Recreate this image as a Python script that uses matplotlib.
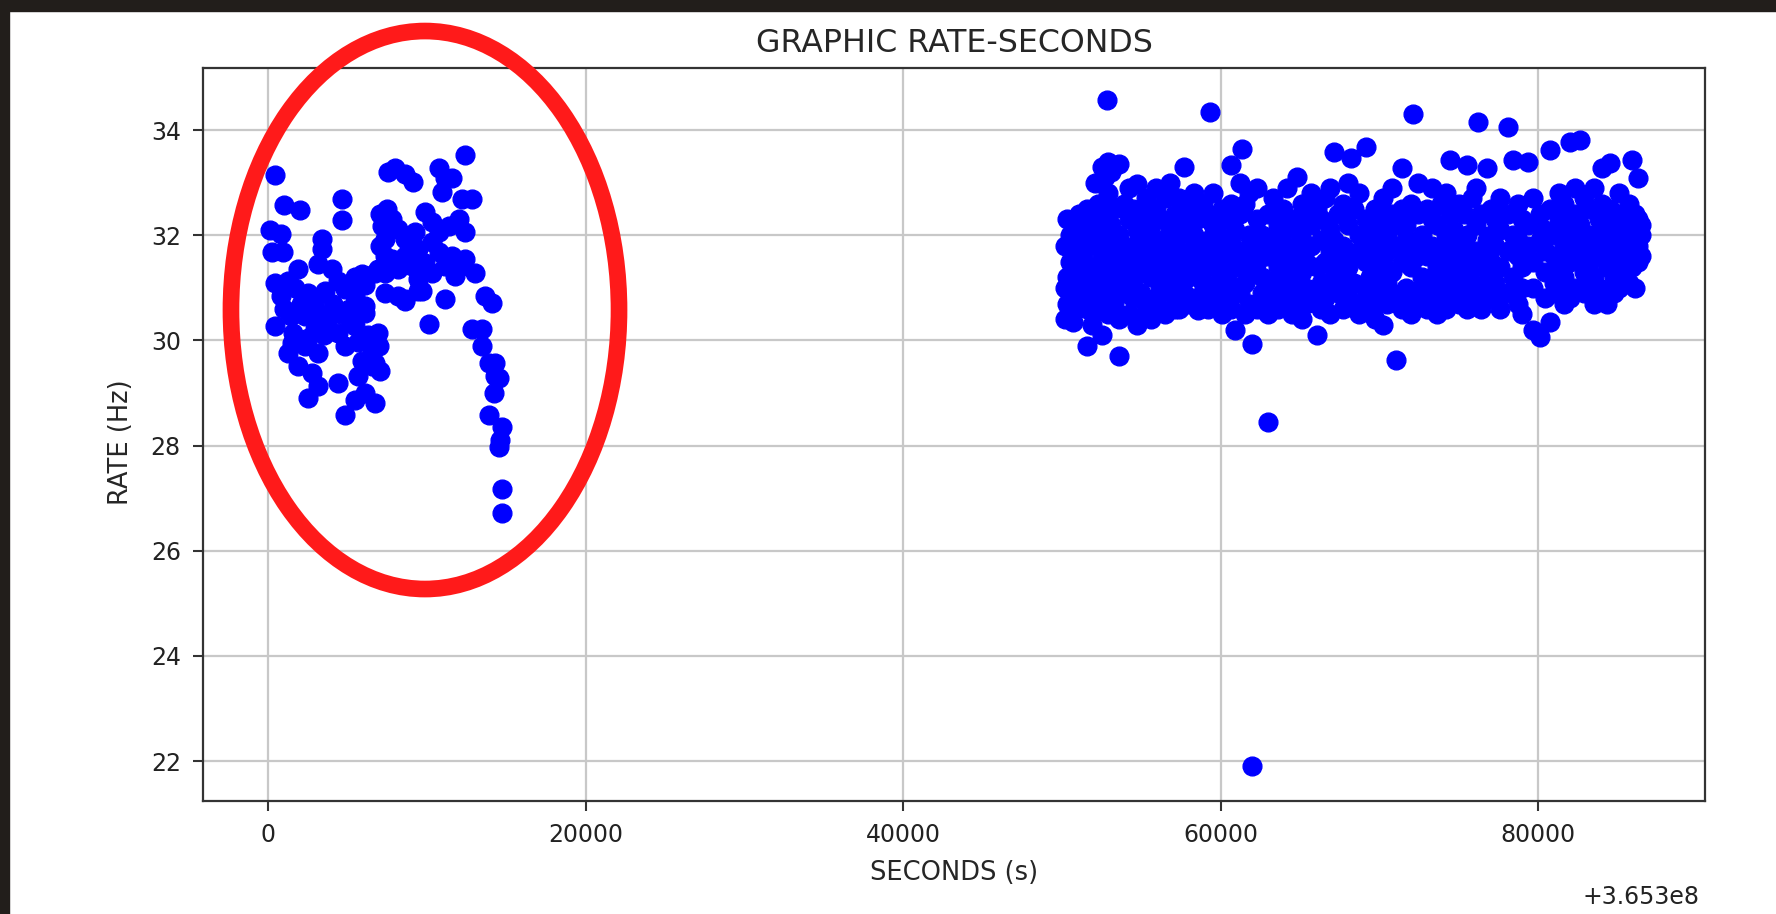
import matplotlib.pyplot as plt
from matplotlib.patches import Ellipse, Rectangle

# time origin of the run (seconds), shown as axis offset
T0 = 365300000

# first block of measurements: (seconds after T0, rate in Hz)
left_obs = [
    (463, 33.15), (1010, 32.58), (2000, 32.48), (4673, 32.69), (4673, 32.28),
    (105, 32.09), (842, 32.03), (250, 31.68), (947, 31.68), (3368, 31.93),
    (3368, 31.74), (3158, 31.45),
    (1895, 31.36), (421, 31.10), (1263, 31.13), (4000, 31.36), (4421, 31.13),
    (5894, 31.26), (6947, 31.36), (7368, 31.29), (5473, 31.20), (6105, 31.05),
    (842, 30.85), (2526, 30.91), (2947, 30.78), (3579, 30.94), (4842, 30.97),
    (5473, 30.85), (6105, 30.66), (8210, 30.85), (8631, 30.75), (9473, 30.94),
    (1700, 31.00), (2100, 30.70), (2600, 30.60), (3300, 30.50), (4100, 30.70),
    (4600, 30.50), (5100, 30.60), (5200, 30.35), (3500, 30.10), (2500, 30.05),
    (1600, 30.15), (1000, 30.60), (1500, 29.95), (6300, 30.10), (7000, 29.90),
    (421, 30.27), (1474, 30.46), (2316, 30.46), (2947, 30.21), (3789, 30.40),
    (4421, 30.15), (5473, 30.27), (6105, 30.53), (6947, 30.15), (11157, 30.78),
    (1263, 29.76), (2316, 29.89), (3158, 29.76), (4842, 29.89), (5684, 29.96),
    (6526, 29.83), (6737, 29.57), (5900, 29.60),
    (1895, 29.51), (2737, 29.38), (3158, 29.13), (4421, 29.19), (5684, 29.32),
    (6526, 29.51), (7052, 29.41),
    (2526, 28.90), (4842, 28.59), (5473, 28.87), (6105, 29.00), (6737, 28.81),
    (8000, 33.27), (7580, 33.20), (8631, 33.17), (9157, 33.01), (10736, 33.27),
    (11157, 33.08), (10946, 32.82), (11578, 33.08), (12420, 33.52),
    (12210, 32.69), (12841, 32.69), (7052, 32.41), (7473, 32.50),
    (7157, 32.18), (7789, 32.31), (8210, 32.12), (7368, 31.93), (7052, 31.80),
    (8631, 31.93), (9262, 32.06), (9894, 32.44), (10315, 32.25), (10736, 32.06),
    (11368, 32.18), (11999, 32.31), (12420, 32.06), (10315, 31.87), (9473, 31.74),
    (8631, 31.61), (7789, 31.55), (8210, 31.36), (9052, 31.42), (9894, 31.48),
    (10736, 31.68), (11578, 31.61), (11157, 31.42), (12210, 31.42), (7368, 31.61),
    (6737, 31.29), (9473, 31.17), (10315, 31.29), (11789, 31.23), (12420, 31.55),
    (13052, 31.29), (7368, 30.91), (8631, 30.78), (9684, 30.94), (10104, 30.31),
    (13683, 30.85), (14104, 30.72), (12841, 30.21), (13473, 30.21), (13473, 29.89),
    (13894, 29.57), (14315, 29.57), (14315, 29.32), (14525, 29.29), (14210, 29.00),
    (13894, 28.59), (14736, 28.36), (14525, 27.98), (14630, 28.10), (14736, 27.18),
    (14736, 26.71),
]

# second block of measurements: (seconds after T0, rate in Hz)
right_obs = [
    (50200, 31.0), (50200, 30.4), (50200, 31.8), (50300, 32.3), (50300, 30.7),
    (50300, 31.2), (50500, 31.5), (50500, 30.5), (50500, 32.0), (50500, 30.9),
    (50700, 31.3), (50700, 30.35), (50700, 31.7), (50900, 32.1), (50900, 31.0),
    (50900, 30.6), (50900, 31.5), (51100, 32.4), (51100, 31.2), (51100, 30.8),
    (51100, 31.8), (51300, 31.6), (51300, 32.2), (51300, 30.9), (51300, 31.0),
    (51600, 31.9), (51600, 32.5), (51600, 31.3), (51600, 30.6), (51600, 29.9),
    (51900, 32.0), (51900, 31.1), (51900, 30.3), (51900, 32.4), (52100, 31.4),
    (52100, 32.1), (52100, 30.8), (52100, 33.0), (52300, 31.8), (52300, 32.6),
    (52300, 31.2), (52300, 30.6), (52500, 31.6), (52500, 32.0), (52500, 30.1),
    (52500, 33.3), (52500, 30.6), (52700, 32.3), (52700, 31.3), (52700, 30.9),
    (52700, 33.1), (52860, 34.57), (52900, 31.9), (52900, 32.8), (52900, 31.5),
    (52900, 30.5), (52900, 33.4), (53100, 32.2), (53100, 31.0), (53100, 31.7),
    (53100, 33.2), (53300, 31.4), (53300, 32.5), (53300, 30.7), (53300, 31.9),
    (53600, 32.0), (53600, 31.2), (53600, 33.35), (53600, 29.7), (53600, 30.4),
    (53900, 31.7), (53900, 32.6), (53900, 30.9), (53900, 31.3), (54200, 32.3),
    (54200, 31.5), (54200, 30.5), (54200, 32.9), (54500, 31.8), (54500, 31.1),
    (54500, 32.5), (54500, 30.8), (54750, 32.98), (54750, 31.6), (54750, 30.3),
    (54750, 32.1), (55000, 31.3), (55000, 32.4), (55000, 30.9), (55000, 31.8),
    (55300, 32.7), (55300, 31.5), (55300, 30.6), (55300, 32.0), (55600, 31.2),
    (55600, 32.2), (55600, 30.4), (55600, 31.7), (55900, 32.5), (55900, 31.4),
    (55900, 30.8), (55900, 32.9), (56200, 31.9), (56200, 31.0), (56200, 32.3),
    (56200, 30.6), (56500, 32.7), (56500, 31.6), (56500, 30.5), (56500, 31.2),
    (56800, 31.4), (56800, 32.1), (56800, 30.9), (56800, 33.0), (57100, 32.4),
    (57100, 31.8), (57100, 30.6), (57100, 31.1), (57400, 31.5), (57400, 32.7),
    (57400, 30.6), (57400, 32.0), (57700, 32.2), (57700, 31.3), (57700, 33.3),
    (57700, 30.9), (58000, 31.7), (58000, 32.5), (58000, 30.7), (58000, 31.2),
    (58300, 32.0), (58300, 31.5), (58300, 30.8), (58300, 32.8), (58600, 31.3),
    (58600, 32.3), (58600, 30.57), (58600, 31.8), (58900, 32.6), (58900, 31.7),
    (58900, 30.9), (58900, 31.1), (59200, 31.9), (59200, 32.4), (59200, 30.6),
    (59200, 31.4), (59330, 34.35), (59500, 32.2), (59500, 31.6), (59500, 30.9),
    (59500, 32.8), (59800, 31.5), (59800, 32.0), (59800, 31.1), (59800, 30.7),
    (60100, 32.5), (60100, 31.8), (60100, 31.3), (60100, 30.5), (60400, 31.7),
    (60400, 32.3), (60400, 30.8), (60400, 31.2), (60630, 33.33), (60630, 31.9),
    (60630, 32.6), (60630, 30.6), (60900, 31.4), (60900, 32.1), (60900, 31.0),
    (60900, 30.2), (61200, 32.4), (61200, 31.7), (61200, 30.9), (61200, 33.0),
    (61365, 33.64), (61500, 31.6), (61500, 32.6), (61500, 31.1), (61500, 30.5),
    (61800, 32.0), (61800, 31.3), (61800, 30.7), (61800, 32.8), (62000, 21.9),
    (62000, 29.94), (62000, 31.8), (62300, 32.3), (62300, 31.5), (62300, 30.6),
    (62300, 32.9), (62600, 31.2), (62600, 32.0), (62600, 30.9), (62600, 31.7),
    (63000, 28.44), (63000, 32.4), (63000, 31.6), (63000, 30.5), (63300, 31.9),
    (63300, 32.7), (63300, 31.1), (63300, 30.8), (63600, 32.2), (63600, 31.4),
    (63600, 30.6), (63600, 31.8), (63900, 31.6), (63900, 32.5), (63900, 30.9),
    (63900, 32.1), (64200, 32.9), (64200, 31.2), (64200, 30.7), (64200, 31.8),
    (64500, 31.5), (64500, 32.3), (64500, 31.0), (64500, 30.5), (64800, 32.1),
    (64800, 31.7), (64800, 30.8), (64800, 33.1), (65100, 31.3), (65100, 32.6),
    (65100, 31.9), (65100, 30.4), (65400, 32.4), (65400, 31.5), (65400, 30.7),
    (65400, 31.0), (65700, 31.8), (65700, 32.2), (65700, 30.9), (65700, 32.8),
    (66035, 30.1), (66035, 31.4), (66035, 32.5), (66300, 31.9), (66300, 32.3),
    (66300, 31.1), (66300, 30.6), (66600, 32.7), (66600, 31.5), (66600, 31.0),
    (66600, 30.8), (66900, 31.7), (66900, 32.1), (66900, 30.5), (66900, 32.9),
    (67140, 33.59), (67140, 31.3), (67140, 31.9), (67400, 32.4), (67400, 31.6),
    (67400, 30.9), (67400, 31.0), (67700, 31.8), (67700, 32.6), (67700, 30.6),
    (67700, 31.2), (68000, 32.2), (68000, 31.4), (68000, 30.8), (68000, 33.0),
    (68190, 33.46), (68400, 31.6), (68400, 32.5), (68400, 31.1), (68400, 30.7),
    (68700, 32.0), (68700, 31.7), (68700, 30.5), (68700, 32.8), (69135, 33.68),
    (69135, 31.5), (69135, 32.3), (69135, 30.9), (69400, 31.2), (69400, 32.1),
    (69400, 30.6), (69400, 31.8), (69700, 32.5), (69700, 31.6), (69700, 31.0),
    (69700, 30.4), (70000, 31.9), (70000, 32.3), (70000, 30.8), (70000, 31.3),
    (70235, 30.29), (70235, 32.7), (70235, 31.5), (70500, 31.7), (70500, 32.0),
    (70500, 30.7), (70500, 31.1), (70800, 32.4), (70800, 31.3), (70800, 30.9),
    (70800, 32.9), (71025, 29.63), (71025, 31.8), (71025, 32.2), (71390, 33.27),
    (71390, 31.5), (71390, 30.6), (71390, 32.5), (71700, 31.9), (71700, 32.2),
    (71700, 31.0), (71700, 30.8), (72000, 32.6), (72000, 31.4), (72000, 30.5),
    (72000, 31.7), (72125, 34.3), (72400, 31.6), (72400, 32.4), (72400, 30.9),
    (72400, 33.0), (72700, 32.0), (72700, 31.2), (72700, 30.7), (72700, 31.8),
    (73000, 32.5), (73000, 31.6), (73000, 31.0), (73000, 30.6), (73300, 31.8),
    (73300, 32.3), (73300, 30.8), (73300, 32.9), (73600, 32.2), (73600, 31.4),
    (73600, 30.5), (73600, 31.1), (73900, 31.5), (73900, 32.6), (73900, 31.0),
    (73900, 30.9), (74200, 32.0), (74200, 31.7), (74200, 30.6), (74200, 32.8),
    (74435, 33.43), (74435, 31.3), (74435, 32.4), (74700, 31.8), (74700, 32.1),
    (74700, 30.8), (74700, 31.0), (75000, 32.6), (75000, 31.5), (75000, 30.7),
    (75000, 31.2), (75300, 31.9), (75300, 32.4), (75300, 30.9), (75300, 31.6),
    (75485, 33.33), (75485, 32.0), (75485, 30.6), (75800, 31.4), (75800, 32.7),
    (75800, 31.1), (75800, 30.8), (76100, 32.2), (76100, 31.7), (76100, 30.7),
    (76100, 32.9), (76200, 34.16), (76400, 31.6), (76400, 32.4), (76400, 31.0),
    (76400, 30.6), (76745, 33.27), (76745, 31.9), (76745, 31.3), (77000, 32.5),
    (77000, 31.5), (77000, 30.8), (77000, 32.0), (77300, 31.8), (77300, 32.3),
    (77300, 31.1), (77300, 30.9), (77600, 32.1), (77600, 31.4), (77600, 30.6),
    (77600, 32.7), (78070, 34.05), (78070, 31.7), (78070, 32.4), (78070, 30.9),
    (78425, 33.43), (78425, 31.2), (78425, 32.0), (78700, 31.6), (78700, 32.6),
    (78700, 30.7), (78700, 31.9), (79000, 32.3), (79000, 31.4), (79000, 31.0),
    (79000, 30.5), (79370, 33.4), (79370, 31.8), (79370, 32.2), (79685, 30.19),
    (79685, 32.7), (79685, 31.5), (79685, 31.0), (80100, 30.06), (80100, 31.9),
    (80100, 32.4), (80400, 31.3), (80400, 32.1), (80400, 31.7), (80400, 30.8),
    (80735, 30.35), (80735, 33.62), (80735, 32.5), (81000, 31.6), (81000, 32.0),
    (81000, 31.1), (81000, 30.9), (81300, 32.8), (81300, 31.4), (81300, 32.3),
    (81300, 31.0), (81600, 31.8), (81600, 32.6), (81600, 31.2), (81600, 30.7),
    (82000, 33.78), (82000, 32.1), (82000, 31.5), (82000, 30.8), (82300, 31.9),
    (82300, 32.4), (82300, 31.0), (82300, 32.9), (82625, 33.81), (82625, 31.6),
    (82625, 32.2), (82900, 31.3), (82900, 32.7), (82900, 31.8), (82900, 30.9),
    (83200, 32.0), (83200, 31.5), (83200, 32.5), (83200, 31.1), (83500, 31.7),
    (83500, 32.9), (83500, 31.2), (83500, 30.7), (83800, 32.3), (83800, 31.6),
    (83800, 32.0), (83800, 31.0), (84000, 33.27), (84000, 31.8), (84000, 32.6),
    (84300, 30.7), (84300, 31.4), (84300, 32.2), (84300, 31.9), (84515, 33.37),
    (84515, 31.7), (84515, 32.5), (84800, 31.2), (84800, 32.0), (84800, 31.6),
    (84800, 30.9), (85100, 32.4), (85100, 31.5), (85100, 32.8), (85100, 31.0),
    (85400, 31.8), (85400, 32.3), (85400, 31.3), (85400, 32.0), (85700, 32.6),
    (85700, 31.6), (85700, 31.1), (85700, 32.2), (85880, 33.43), (85880, 31.9),
    (85880, 31.4), (86100, 31.0), (86100, 32.1), (86100, 31.7), (86100, 32.4),
    (86300, 33.08), (86300, 31.8), (86300, 32.3), (86300, 31.5), (86500, 32.0),
    (86500, 31.6), (86500, 32.2),
]

x_ticks = [0, 20000, 40000, 60000, 80000]
y_ticks = [22, 24, 26, 28, 30, 32, 34]

obs = left_obs + right_obs
seconds = [T0 + s for s, _ in obs]
rates = [r for _, r in obs]

fig = plt.figure(figsize=(17.76, 9.14), dpi=100)
ax = fig.add_axes([0.1143, 0.1236, 0.8457, 0.802])

ax.plot(seconds, rates, 'o', color='#0000ff', markersize=13.5)

ax.set_xlim(T0 - 4100, T0 + 90500)
ax.set_ylim(21.24, 35.18)
ax.set_xticks([T0 + t for t in x_ticks])
ax.set_yticks(y_ticks)
ax.ticklabel_format(axis='x', useOffset=T0, style='plain')
ax.xaxis.get_offset_text().set_visible(False)

ax.grid(True, color='#c8c8c8', linewidth=1.6)
ax.set_axisbelow(True)
for sp in ax.spines.values():
    sp.set_linewidth(1.6)
    sp.set_color('#333333')
ax.tick_params(labelsize=17, length=7, width=1.5, pad=9, colors='#333333',
               labelcolor='#222222')

ax.set_title('GRAPHIC RATE-SECONDS', fontsize=22.8, pad=11.5, color='#262626')
ax.set_xlabel('SECONDS (s)', fontsize=18.5, color='#262626')
ax.set_ylabel('RATE (Hz)', fontsize=18.5, color='#262626')
ax.xaxis.set_label_coords(0.5, -0.081)
ax.yaxis.set_label_coords(-0.046, 0.49)

# offset text placed by hand, it sits lower than matplotlib would put it
fig.text(1699 / 1776, 1 - 897 / 914, '+3.653e8', ha='right', va='center',
         fontsize=17, color='#222222')

# red ellipse drawn over the first block
fig.add_artist(Ellipse((0.2393, 0.6608), 0.2185, 0.6105, fill=False,
                       edgecolor='#ff1a1a', linewidth=12))

# dark screenshot border, top and left
fig.add_artist(Rectangle((0, 1 - 11 / 914), 1, 11 / 914, transform=fig.transFigure,
                         color='#221e1b', zorder=10))
fig.add_artist(Rectangle((0, 0), 9 / 1776, 1, transform=fig.transFigure,
                         color='#221e1b', zorder=10))

fig.savefig('out.png', dpi=100)
